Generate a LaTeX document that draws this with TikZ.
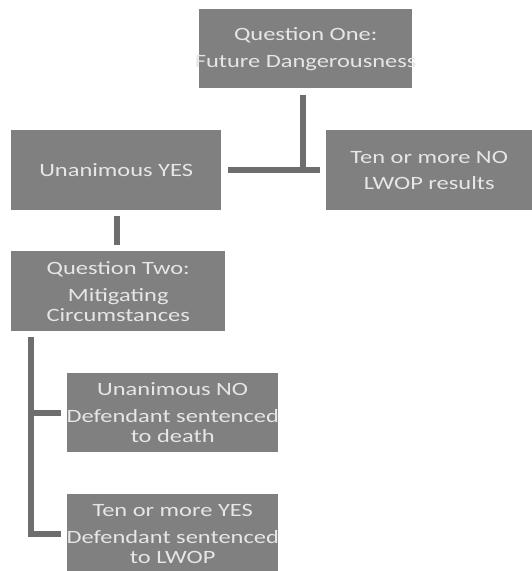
\documentclass[tikz,border=0pt]{standalone}
\usepackage{fontspec}
\setmainfont{Carlito}[FakeStretch=1.3]
\definecolor{boxfill}{HTML}{808080}
\definecolor{boxtext}{HTML}{E6E6E6}
\definecolor{linecol}{HTML}{6E6E6E}
\newcommand{\wideline}[1]{\makebox[0pt][c]{#1}}
\begin{document}
\begin{tikzpicture}[x=1pt,y=-1pt,
  box/.style={fill=boxfill, text=boxtext, anchor=north west, inner sep=0pt,
    align=center, font=\fontsize{18.8}{20}\selectfont},
  conn/.style={draw=linecol, line width=6pt}]
\useasboundingbox (0,0) rectangle (532,571);
\node[box, minimum width=213pt, minimum height=79pt] (q1) at (199,9)
  {Question One:\\[7pt]\wideline{Future Dangerousness}};
\node[box, minimum width=210pt, minimum height=80pt] (yes) at (11,130)
  {Unanimous YES};
\node[box, minimum width=206pt, minimum height=80pt] (ten) at (326,130)
  {Ten or more NO\\[6pt]LWOP results};
\node[box, minimum width=214pt, minimum height=80pt] (q2) at (11,251)
  {Question Two:\\[7pt]Mitigating\\Circumstances};
\node[box, minimum width=211pt, minimum height=79pt] (death) at (67,373)
  {Unanimous NO\\[7pt]\wideline{Defendant sentenced}\\to death};
\node[box, minimum width=211pt, minimum height=79pt] (lwop) at (67,494)
  {Ten or more YES\\[7pt]\wideline{Defendant sentenced}\\to LWOP};
% connectors
\coordinate (top) at ([xshift=-3pt,yshift=-7pt]q1.south);
\draw[conn] ([xshift=7pt]yes.east) -- ([xshift=-6pt]ten.west);
\draw[conn] (top) -- (top |- yes.east);
\coordinate (mid) at ([xshift=1pt,yshift=-6pt]yes.south);
\draw[conn, shorten >=6pt] (mid) -- (mid |- q2.north);
\coordinate (lt) at ([xshift=20pt,yshift=-6pt]q2.south west);
\draw[conn] (lt) |- ([xshift=-6pt]lwop.west);
\draw[conn] ([xshift=-6pt]death.west) -- (death.west -| lt);
\end{tikzpicture}
\end{document}
